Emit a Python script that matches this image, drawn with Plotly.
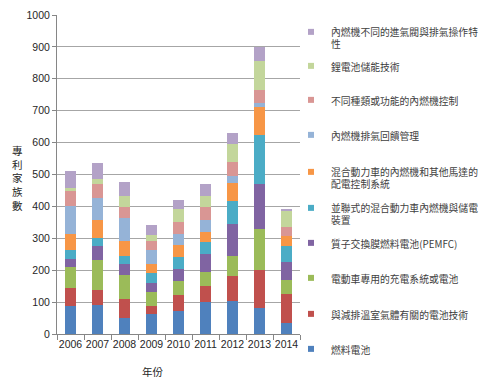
import plotly.graph_objects as go

years = ["2006", "2007", "2008", "2009", "2010", "2011", "2012", "2013", "2014"]

fuel_cell = [88, 90, 51, 62, 71, 99, 104, 83, 36]
ghg_battery = [57, 49, 60, 27, 51, 52, 78, 118, 89]
ev_charging = [64, 93, 74, 44, 43, 42, 63, 127, 44]
pemfc = [27, 45, 36, 28, 38, 58, 100, 141, 58]
parallel_hybrid = [28, 23, 23, 30, 39, 38, 72, 155, 50]
hybrid_control = [49, 57, 47, 30, 37, 31, 55, 87, 31]
exhaust_feedback = [88, 70, 73, 41, 34, 36, 24, 12, 0]
ice_control = [48, 42, 34, 30, 39, 43, 42, 42, 28]
li_storage = [10, 17, 34, 17, 39, 33, 58, 91, 51]
valve_ops = [53, 51, 46, 33, 28, 39, 33, 44, 4]

series_names = [
    "燃料電池",
    "與減排溫室氣體有關的電池技術",
    "電動車專用的充電系統或電池",
    "質子交換膜燃料電池(PEMFC)",
    "並聯式的混合動力車內燃機與儲電<br>裝置",
    "混合動力車的內燃機和其他馬達的<br>配電控制系統",
    "內燃機排氣回饋管理",
    "不同種類或功能的內燃機控制",
    "鋰電池儲能技術",
    "內燃機不同的進氣閥與排氣操作特<br>性",
]
series_values = [fuel_cell, ghg_battery, ev_charging, pemfc, parallel_hybrid,
                 hybrid_control, exhaust_feedback, ice_control, li_storage, valve_ops]
colors = ["#4F81BD", "#C0504D", "#9BBB59", "#8064A2", "#4BACC6",
          "#F79646", "#95B3D7", "#D99694", "#C3D69B", "#B3A2C7"]

# ---- layout geometry (page has an 8px body margin) ----
W, H = 480, 377
OFF = 8
# first-line centre of each legend entry in window pixels (fuel cell first)
legend_line_px = [349, 314, 278, 243, 208, 172, 135, 100, 66, 32]
LEGEND_TOP_PAD = 13
legend_left_px = 291

font_cjk = "Noto Sans CJK TC, Noto Sans, sans-serif"
font_num = "Liberation Sans, Arial, sans-serif"

fig = go.Figure()
legends = {}
for i, (name, vals, col) in enumerate(zip(series_names, series_values, colors)):
    lg = "legend" if i == 0 else f"legend{i + 1}"
    fig.add_trace(go.Bar(x=years, y=vals, name=name, marker_color=col,
                         marker_line_width=0, legendgroup=f"g{i}", showlegend=False))
    fig.add_trace(go.Scatter(x=[None], y=[None], mode="markers", name=name,
                             marker=dict(symbol="square", size=6, color=col),
                             legendgroup=f"g{i}", legend=lg, showlegend=True))
    top = legend_line_px[i] - OFF - LEGEND_TOP_PAD
    legends[lg] = dict(
        xref="container", yref="container",
        x=(legend_left_px - OFF) / W, xanchor="left",
        y=1 - top / H, yanchor="top", valign="top",
        font=dict(size=9.8, color="#404040", family=font_cjk),
        itemwidth=30, bgcolor="rgba(0,0,0,0)",
    )

fig.update_layout(
    barmode="stack",
    bargap=0.58,
    width=W, height=H,
    margin=dict(l=49, r=188, t=7, b=51, autoexpand=False),
    plot_bgcolor="white", paper_bgcolor="white",
    font=dict(family=font_cjk, size=10, color="#262626"),
    xaxis=dict(
        showline=True, linecolor="#868686", linewidth=1,
        ticks="outside", tickson="boundaries", ticklen=5, tickcolor="#868686",
        tickangle=0,
        tickfont=dict(size=10.5, color="#262626", family=font_num),
    ),
    yaxis=dict(
        range=[0, 1000], dtick=100,
        showgrid=True, gridcolor="#A6A6A6", gridwidth=1,
        showline=True, linecolor="#868686", linewidth=1,
        ticks="outside", ticklen=4, tickcolor="#868686",
        tickfont=dict(size=10.5, color="#262626", family=font_num),
        zeroline=False,
    ),
    annotations=[
        dict(text="專<br>利<br>家<br>族<br>數", xref="paper", yref="paper",
             x=-0.1646, y=0.489, xanchor="center", yanchor="middle", showarrow=False,
             font=dict(size=10.5, color="#262626")),
        dict(text="年份", xref="paper", yref="paper",
             x=0.395, y=-0.119, xanchor="center", yanchor="middle", showarrow=False,
             font=dict(size=10.5, color="#262626")),
    ],
)
fig.update_layout(**legends)

fig.write_html("out.html")
